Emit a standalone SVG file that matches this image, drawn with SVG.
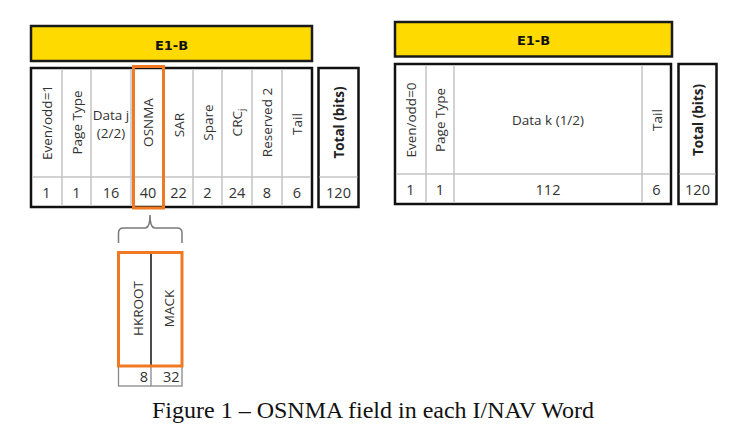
<svg xmlns="http://www.w3.org/2000/svg" width="741" height="440" viewBox="0 0 741 440">
<style>
.bg{fill:#fff}
.bar{fill:#FFDA00;stroke:#1a1a1a;stroke-width:2.5}
.box{fill:#fff;stroke:#111;stroke-width:2.5}
.grid{stroke:#c4c4c4;stroke-width:1.5;fill:none}
.orange{fill:none;stroke:#F07A22;stroke-width:3}
.hdr{font-family:"DejaVu Sans",sans-serif;font-weight:bold;font-size:13px;fill:#111;text-anchor:middle}
.lbl{font-family:"Open Sans","DejaVu Sans",sans-serif;font-size:13.5px;fill:#333;text-anchor:middle}
.lblb{font-family:"Open Sans","DejaVu Sans",sans-serif;font-weight:bold;font-size:13.5px;fill:#222;text-anchor:middle}
.num{font-family:"Open Sans","DejaVu Sans",sans-serif;font-size:14.5px;fill:#333;text-anchor:middle}
.cap{font-family:"Liberation Serif",serif;font-size:24px;fill:#111;text-anchor:middle}
</style>
<rect class="bg" x="0" y="0" width="741" height="440"/>

<g id="left-word">
  <rect class="bar" x="31" y="26" width="281" height="35"/>
  <text class="hdr" x="171.5" y="50">E1-B</text>
  <rect class="box" x="31" y="68" width="281" height="139"/>
  <path class="grid" d="M32 177H311 M62 69V206 M91 69V206 M131 69V206 M164 69V206 M193 69V206 M222 69V206 M252 69V206 M282 69V206"/>
  <g class="lbl">
    <text transform="translate(51.5 122.5) rotate(-90)">Even/odd=1</text>
    <text transform="translate(81.5 122.5) rotate(-90)">Page Type</text>
    <text x="111" y="120">Data j</text>
    <text x="111" y="138">(2/2)</text>
    <text transform="translate(153 122.5) rotate(-90)">OSNMA</text>
    <text transform="translate(183.5 125) rotate(-90)">SAR</text>
    <text transform="translate(212.5 122.5) rotate(-90)">Spare</text>
    <text transform="translate(242 122.5) rotate(-90)">CRC<tspan font-size="9.5" dy="3">j</tspan></text>
    <text transform="translate(272 122.5) rotate(-90)">Reserved 2</text>
    <text transform="translate(302 124) rotate(-90)">Tail</text>
  </g>
  <g class="num">
    <text x="46.5" y="198">1</text>
    <text x="76.5" y="198">1</text>
    <text x="111" y="198">16</text>
    <text x="148" y="198">40</text>
    <text x="178.5" y="198">22</text>
    <text x="207.5" y="198">2</text>
    <text x="237" y="198">24</text>
    <text x="267" y="198">8</text>
    <text x="297" y="198">6</text>
  </g>
  <rect class="orange" x="133.5" y="66.5" width="30" height="141.5"/>
</g>

<g id="left-total">
  <rect class="box" x="318.5" y="68" width="40" height="139"/>
  <path class="grid" d="M319.5 177H357.5"/>
  <text class="lblb" transform="translate(343.5 122.5) rotate(-90)">Total (bits)</text>
  <text class="num" x="338.5" y="198">120</text>
</g>

<g id="right-word">
  <rect class="bar" x="395" y="22" width="277" height="34.5"/>
  <text class="hdr" x="533.5" y="44.5">E1-B</text>
  <rect class="box" x="395" y="64" width="276" height="140"/>
  <path class="grid" d="M396 174H670 M426 65V203 M454 65V203 M642 65V203"/>
  <g class="lbl">
    <text transform="translate(415.5 120) rotate(-90)">Even/odd=0</text>
    <text transform="translate(445 120) rotate(-90)">Page Type</text>
    <text x="548" y="125">Data k (1/2)</text>
    <text transform="translate(661.5 120) rotate(-90)">Tail</text>
  </g>
  <g class="num">
    <text x="410.5" y="195">1</text>
    <text x="440" y="195">1</text>
    <text x="548" y="195">112</text>
    <text x="656.5" y="195">6</text>
  </g>
</g>

<g id="right-total">
  <rect class="box" x="678.5" y="64" width="38" height="140"/>
  <path class="grid" d="M679.5 174H715.5"/>
  <text class="lblb" transform="translate(702.5 120) rotate(-90)">Total (bits)</text>
  <text class="num" x="697.5" y="195">120</text>
</g>

<g id="connectors">
  <path d="M118.5 243V233Q118.5 228 123.5 228H145Q150 228 150 215Q150 228 155 228H177Q182 228 182 233V243" fill="none" stroke="#7a7a7a" stroke-width="1.5"/>
</g>

<g id="osnma-detail">
  <rect x="118.5" y="366" width="63.5" height="20" fill="#fff" stroke="#888" stroke-width="1.3"/>
  <line x1="151" y1="366" x2="151" y2="386" stroke="#888" stroke-width="1.3"/>
  <line x1="151" y1="253" x2="151" y2="366" stroke="#111" stroke-width="1.5"/>
  <rect class="orange" x="118.5" y="252.5" width="63.5" height="113.5"/>
  <text class="lbl" transform="translate(143 308.5) rotate(-90)">HKROOT</text>
  <text class="lbl" transform="translate(174 308.5) rotate(-90)">MACK</text>
  <text class="num" x="148" y="382" style="text-anchor:end">8</text>
  <text class="num" x="179.5" y="382" style="text-anchor:end">32</text>
</g>

<text class="cap" x="373" y="418">Figure 1 – OSNMA field in each I/NAV Word</text>
</svg>
